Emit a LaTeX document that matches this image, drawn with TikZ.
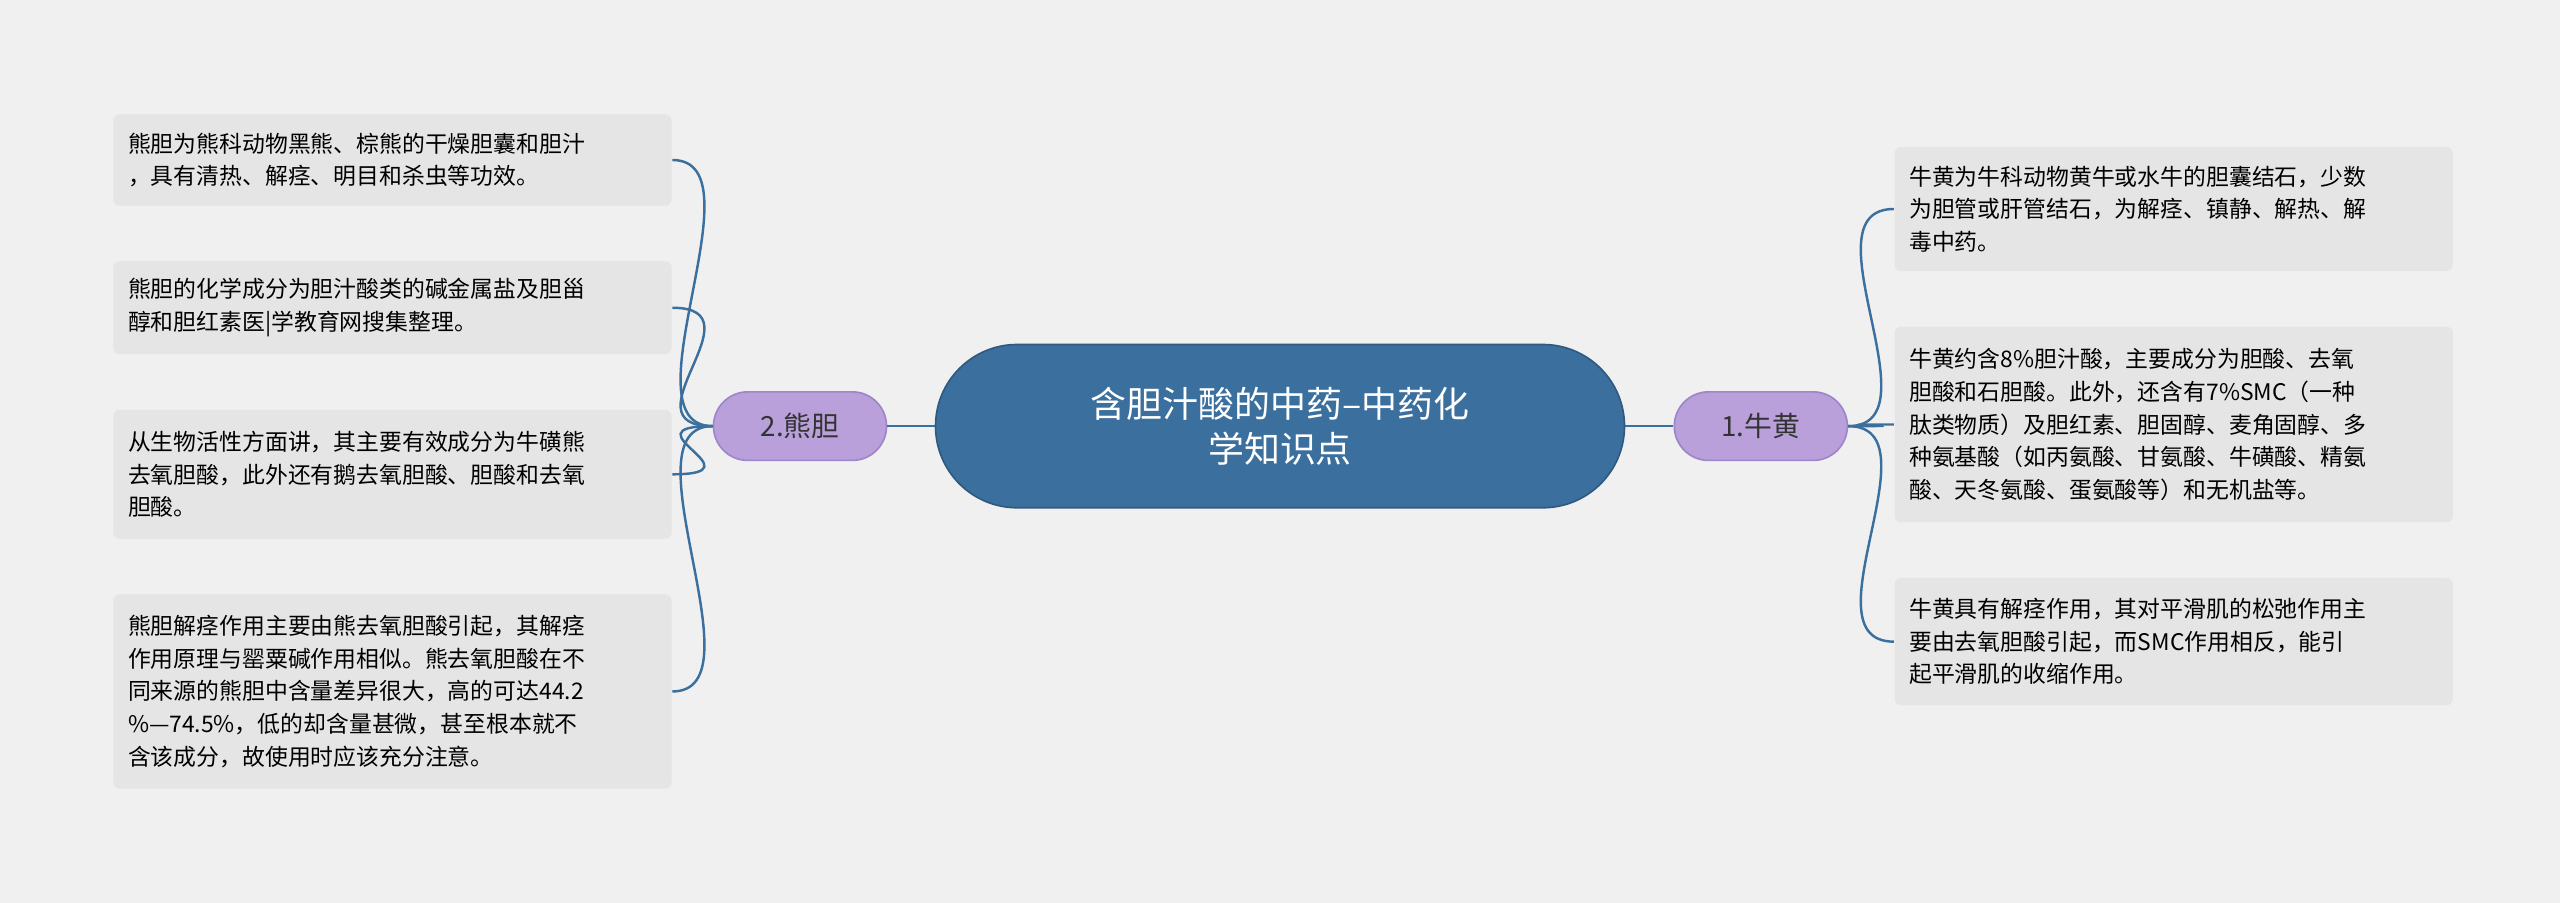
\documentclass[tikz,border=0pt]{standalone}
\usepackage{fontspec}
\setmainfont{Noto Sans CJK SC}
\begin{document}
\begin{tikzpicture}[x=0.5pt,y=-0.5pt,
 leaf/.style={fill=leafc,rounded corners=2pt,anchor=west,inner xsep=4.5pt,inner ysep=0pt,text width=162pt,align=left,font=\fontsize{7}{10}\selectfont},
 sub/.style={fill=subc,draw=subd,line width=0.5pt,rounded corners=10.5pt,minimum width=53pt,minimum height=21pt,inner sep=0pt,font=\fontsize{8.5}{10}\selectfont,text=black!80},
 conn/.style={draw=linec,line width=0.75pt}]
\definecolor{bgc}{HTML}{F0F0F0}
\definecolor{leafc}{HTML}{E5E5E5}
\definecolor{subc}{HTML}{B9A0DB}
\definecolor{subd}{HTML}{9C86C9}
\definecolor{mainc}{HTML}{3B6F9E}
\definecolor{linec}{HTML}{3B6F9E}
\fill[bgc] (0,0) rectangle (1568,553);
\useasboundingbox (0,0) rectangle (1568,553);
\node[fill=mainc,draw=mainc!80!black,line width=0.5pt,rounded corners=25pt,minimum width=211pt,minimum height=50pt,text=white,align=center,font=\fontsize{11}{14}\selectfont] (c) at (784,261) {含胆汁酸的中药--中药化\\学知识点};
\node[sub] (l) at (490,261) {2.熊胆};
\node[sub] (r) at (1078.5,261) {1.牛黄};
\draw[conn] (c.west) -- (l.east);
\draw[conn] (c.east) -- (r.west);
\node[leaf,minimum height=28pt] (l1) at (69,98) {熊胆为熊科动物黑熊、棕熊的干燥胆囊和胆汁\\，具有清热、解痉、明目和杀虫等功效。};
\node[leaf,minimum height=28.5pt] (l2) at (69,188.5) {熊胆的化学成分为胆汁酸类的碱金属盐及胆甾\\醇和胆红素医|学教育网搜集整理。};
\node[leaf,minimum height=39.5pt] (l3) at (69,290.5) {从生物活性方面讲，其主要有效成分为牛磺熊\\去氧胆酸，此外还有鹅去氧胆酸、胆酸和去氧\\胆酸。};
\node[leaf,minimum height=59.5pt] (l4) at (69,423.5) {熊胆解痉作用主要由熊去氧胆酸引起，其解痉\\作用原理与罂粟碱作用相似。熊去氧胆酸在不\\同来源的熊胆中含量差异很大，高的可达44.2\\\%—74.5\%，低的却含量甚微，甚至根本就不\\含该成分，故使用时应该充分注意。};
\node[leaf,minimum height=38pt] (r1) at (1160,128) {牛黄为牛科动物黄牛或水牛的胆囊结石，少数\\为胆管或肝管结石，为解痉、镇静、解热、解\\毒中药。};
\node[leaf,minimum height=60pt] (r2) at (1160,260) {牛黄约含8\%胆汁酸，主要成分为胆酸、去氧\\胆酸和石胆酸。此外，还含有7\%SMC（一种\\肽类物质）及胆红素、胆固醇、麦角固醇、多\\种氨基酸（如丙氨酸、甘氨酸、牛磺酸、精氨\\酸、天冬氨酸、蛋氨酸等）和无机盐等。};
\node[leaf,minimum height=39pt] (r3) at (1160,393) {牛黄具有解痉作用，其对平滑肌的松弛作用主\\要由去氧胆酸引起，而SMC作用相反，能引\\起平滑肌的收缩作用。};
\foreach \n in {l1,l2,l3,l4}{
 \draw[conn] (l.west) .. controls ([xshift=-28]l.west) and ([xshift=28]\n.east) .. (\n.east);}
\foreach \n in {r1,r2,r3}{
 \draw[conn] (r.east) .. controls ([xshift=28]r.east) and ([xshift=-28]\n.west) .. (\n.west);}
\end{tikzpicture}
\end{document}
